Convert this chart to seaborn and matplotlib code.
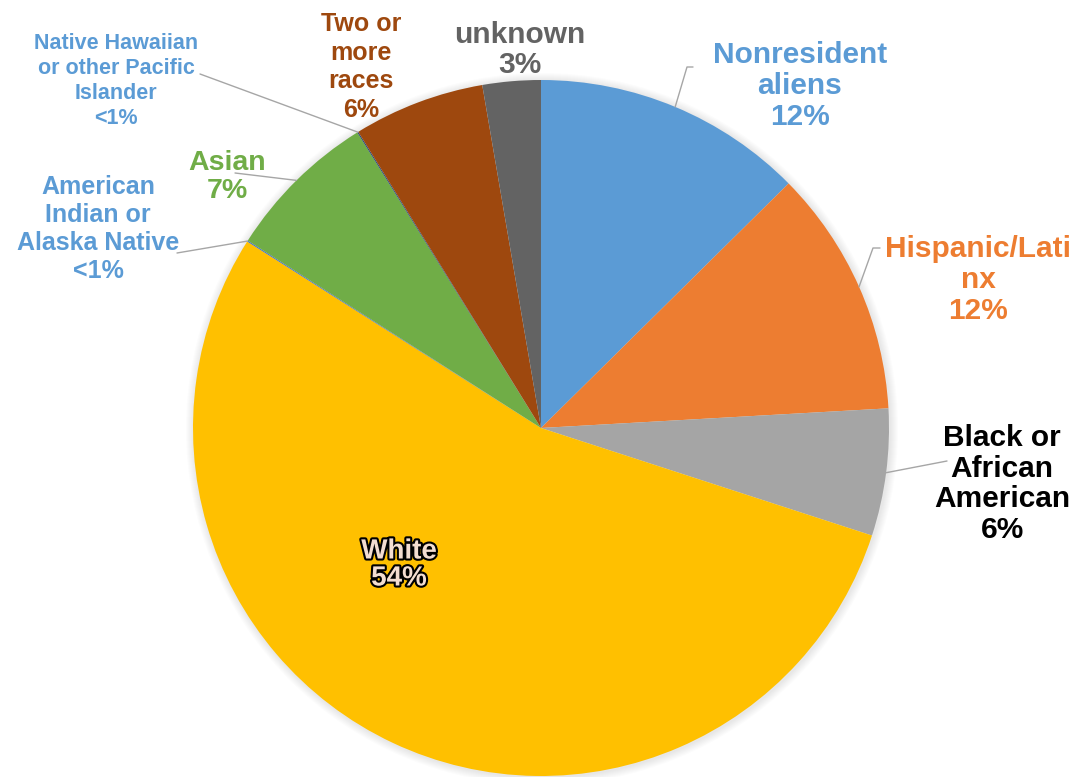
import matplotlib
matplotlib.use("Agg")
import matplotlib.pyplot as plt
import matplotlib.patheffects as pe
from matplotlib.patches import Circle
import numpy as np
import seaborn as sns

# data (percent of total)
categories = ['Nonresident aliens', 'Hispanic/Latinx', 'Black or African American', 'White',
              'American Indian or Alaska Native', 'Asian',
              'Native Hawaiian or other Pacific Islander', 'Two or more races', 'unknown']
shares = [12.6, 11.5, 5.9, 54.0, 0.05, 7.1, 0.05, 6.1, 2.7]
pct_labels = ['12%', '12%', '6%', '54%', '<1%', '7%', '<1%', '6%', '3%']
label_names = ['Nonresident\naliens', 'Hispanic/Lati\nnx', 'Black or\nAfrican\nAmerican', 'White',
               'American\nIndian or\nAlaska Native', 'Asian',
               'Native Hawaiian\nor other Pacific\nIslander', 'Two or\nmore\nraces', 'unknown']

slice_colors = ['#5B9BD5', '#ED7D31', '#A5A5A5', '#FFC000', '#4472C4',
                '#70AD47', '#264478', '#9E480E', '#636363']
text_colors = ['#5B9BD5', '#ED7D31', '#000000', '#F3DDD0', '#5B9BD5',
               '#70AD47', '#5B9BD5', '#9E480E', '#636363']

# layout (pixel positions, y measured from top)
W, H = 1079, 777
cx, cy, R = 541, 428, 348
label_pos = [(800, 86), (978, 280), (1002, 484), (399, 565), (98, 229),
             (227, 177), (116, 81), (361, 67), (520, 50)]
label_size = [21.5, 21.5, 21.5, 20, 18, 20.5, 15.5, 18, 21.5]
label_spacing = [1.12, 1.12, 1.12, 1.05, 1.2, 1.12, 1.25, 1.25, 1.05]
leader_pts = [[(687, 67), (693, 67)], [(873, 248), (880, 248)], [(947, 461)], [],
              [(177, 253)], [(235, 173)], [(200, 74)], [], []]

sns.set_theme(style='white')
plt.rcParams['font.family'] = ['Liberation Sans', 'DejaVu Sans']


def up(y):
    return H - y


fig = plt.figure(figsize=(W / 100, H / 100), dpi=100)
ax = fig.add_axes([0, 0, 1, 1])

# soft shadow around the pie
for k in range(1, 9):
    ax.add_patch(Circle((cx + 1, up(cy) - 1), R + k, fc='#808080', lw=0, alpha=0.025, zorder=0))

wedges, _ = ax.pie(shares, colors=slice_colors, startangle=90, counterclock=False,
                   center=(cx, up(cy)), radius=R, wedgeprops=dict(linewidth=0))
for w in wedges:
    w.set_zorder(1)

for i, w in enumerate(wedges):
    txt = label_names[i] + '\n' + pct_labels[i]
    lx, ly = label_pos[i]
    t = ax.text(lx, up(ly), txt, ha='center', va='center', fontsize=label_size[i],
                fontweight='bold', color=text_colors[i], linespacing=label_spacing[i], zorder=3)
    if categories[i] == 'White':
        t.set_path_effects([pe.withStroke(linewidth=3, foreground='black')])
    if leader_pts[i]:
        mid = np.deg2rad((w.theta1 + w.theta2) / 2)
        xs = [cx + R * np.cos(mid)] + [p[0] for p in leader_pts[i]]
        ys = [up(cy) + R * np.sin(mid)] + [up(p[1]) for p in leader_pts[i]]
        ax.plot(xs, ys, color='#A6A6A6', lw=1, zorder=2)

ax.set_xlim(0, W)
ax.set_ylim(0, H)
ax.set_aspect('equal')
ax.axis('off')
fig.savefig('out.png', dpi=100, facecolor='white')
